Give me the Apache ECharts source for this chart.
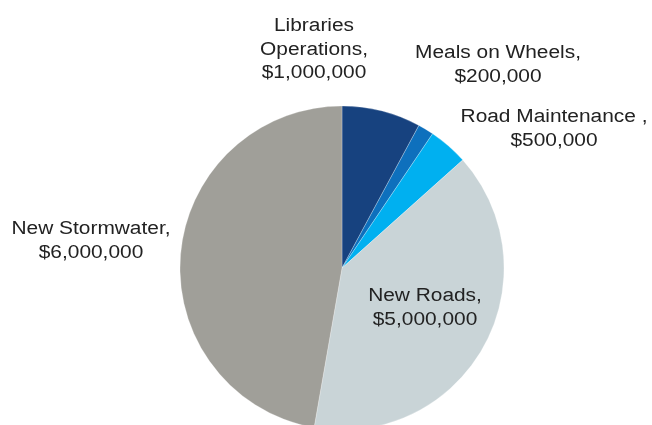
<!DOCTYPE html>
<html>
<head>
<meta charset="utf-8">
<script src="https://cdn.jsdelivr.net/npm/echarts@6/dist/echarts.min.js"></script>
<style>html,body{margin:0;padding:0;background:#fff;}#c{width:652px;height:425px;}</style>
</head>
<body>
<div id="c"></div>
<script>
const categories = ['Libraries\nOperations', 'Meals on Wheels', 'Road Maintenance ', 'New Roads', 'New Stormwater'];
const values = [1000000, 200000, 500000, 5000000, 6000000];
const valueLabels = ['$1,000,000', '$200,000', '$500,000', '$5,000,000', '$6,000,000'];
const colors = ['#17427f', '#0e70bd', '#00b0f0', '#c9d4d7', '#a09f99'];
// label anchor positions (layout only)
const labelPos = [[314, 50], [498, 65], [554, 129], [425, 308], [91, 241]];

const chart = echarts.init(document.getElementById('c'), null, {renderer: 'canvas'});
chart.setOption({
  animation: false,
  graphic: categories.map((c, i) => ({
    type: 'text',
    x: labelPos[i][0],
    y: labelPos[i][1],
    scaleX: 1.16,
    z: 10,
    silent: true,
    style: {
      text: c + ',\n' + valueLabels[i],
      font: '18px "Liberation Sans", Arial, sans-serif',
      lineHeight: 23.5,
      fill: '#222222',
      align: 'center',
      verticalAlign: 'middle'
    }
  })),
  series: [{
    type: 'pie',
    center: [342, 268],
    radius: 162,
    startAngle: 90,
    clockwise: true,
    itemStyle: {borderColor: 'rgba(255,255,255,0.5)', borderWidth: 0.5},
    label: {show: false},
    labelLine: {show: false},
    emphasis: {disabled: true},
    data: categories.map((c, i) => ({name: c.replace('\n', ' '), value: values[i], itemStyle: {color: colors[i]}}))
  }]
});
</script>
</body>
</html>
